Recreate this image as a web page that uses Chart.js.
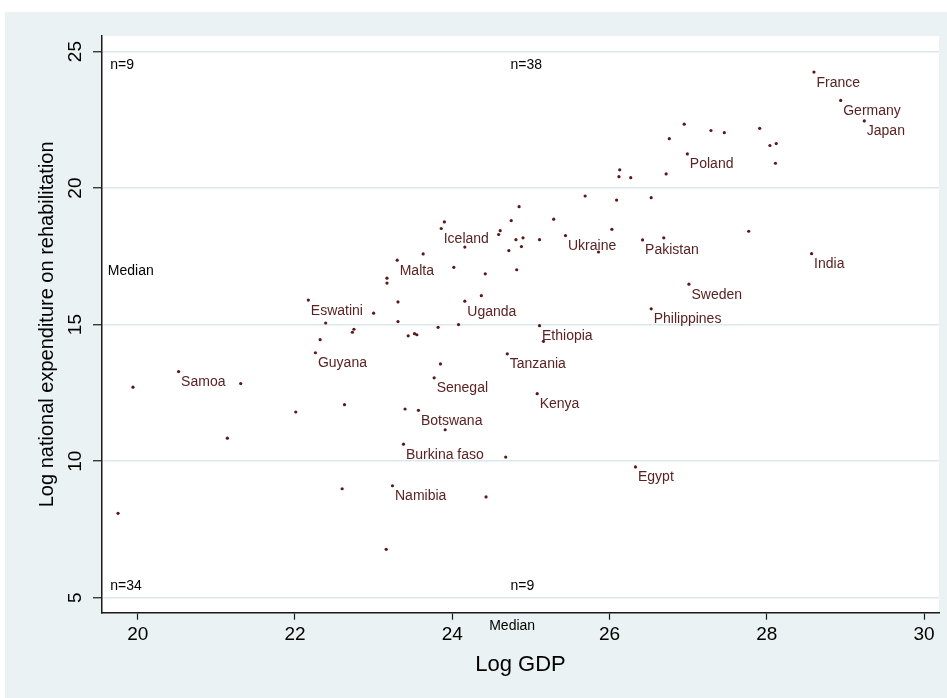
<!DOCTYPE html>
<html>
<head>
<meta charset="utf-8">
<script src="https://cdn.jsdelivr.net/npm/chart.js@4.4.1/dist/chart.umd.min.js"></script>
<style>
   html, body { margin: 0; padding: 0; background: #fff; }
   canvas { display: block; }
</style>
</head>
<body>
<canvas id="chartRehab" width="947" height="698"></canvas>
<script>
// labelled countries first, the rest of the points follow without a name
const labelNames = ['France', 'Germany', 'Japan', 'Poland', 'Iceland', 'Ukraine', 'Pakistan', 'India',
   'Malta', 'Sweden', 'Eswatini', 'Uganda', 'Philippines', 'Ethiopia', 'Guyana', 'Tanzania', 'Samoa',
   'Senegal', 'Kenya', 'Botswana', 'Burkina faso', 'Egypt', 'Namibia'];

const logGdp = [28.60, 28.94, 29.24, 26.99, 23.86, 25.44, 26.42, 28.57, 23.30, 27.01, 22.17, 24.16,
   26.53, 25.11, 22.26, 24.70, 20.52, 23.77, 25.08, 23.57, 23.38, 26.33, 23.24,
   26.76, 26.13, 26.12, 26.27, 26.72, 25.69, 26.09, 26.53, 24.85, 25.29, 24.75, 23.90, 24.61, 24.59,
   26.03, 24.81, 24.90, 25.11, 25.86, 26.69, 24.16, 23.63, 24.72, 24.88, 24.02, 24.42, 24.82, 23.17,
   23.17, 23.31, 24.37, 26.95, 27.29, 27.46, 27.91, 28.04, 28.12, 28.11, 27.77, 23.00, 22.39, 22.73,
   22.75, 22.32, 19.94, 21.31, 22.63, 22.01, 21.14, 22.60, 19.75, 23.16, 23.31, 24.08, 23.82, 23.44,
   23.52, 23.55, 25.16, 23.85, 23.40, 23.91, 24.68, 24.43];

const logRehab = [24.25, 23.21, 22.46, 21.25, 18.52, 18.26, 18.10, 17.60, 17.36, 16.48, 15.90, 15.86,
   15.58, 14.96, 13.97, 13.93, 13.28, 13.05, 12.47, 11.86, 10.62, 9.79, 9.10,
   21.81, 20.67, 20.42, 20.38, 20.52, 19.71, 19.56, 19.65, 19.32, 18.86, 18.81, 18.76, 18.44, 18.30,
   18.49, 18.11, 18.18, 18.11, 17.66, 18.18, 17.84, 17.59, 17.71, 17.86, 17.10, 16.86, 17.01, 16.70,
   16.52, 15.83, 16.06, 22.34, 22.11, 22.03, 22.19, 21.56, 21.63, 20.91, 18.42, 15.42, 15.06, 14.72,
   14.83, 14.45, 12.71, 12.84, 12.07, 11.80, 10.84, 8.99, 8.09, 6.77, 15.11, 15.00, 14.90, 14.59,
   14.67, 14.63, 14.39, 13.56, 11.91, 11.15, 10.15, 8.69];

const xTicks = [20, 22, 24, 26, 28, 30];
const yTicks = [5, 10, 15, 20, 25];

const noteTexts = ['n=9', 'n=38', 'n=34', 'n=9', 'Median', 'Median'];
const noteX = [19.65, 24.74, 19.65, 24.74, 19.62, 24.47];
const noteY = [24.51, 24.51, 5.43, 5.43, 16.96, 3.96];

const FONT = "'Liberation Sans', Arial, sans-serif";
const MARKER = '#5c1717';
const LABEL_COLOR = '#5a2222';

const points = logGdp.map((x, i) => ({ x: x, y: logRehab[i] }));

const stataLook = {
   id: 'stataLook',
   beforeDraw(chart) {
      const { ctx, chartArea } = chart;
      ctx.save();
      ctx.fillStyle = '#ffffff';
      ctx.fillRect(0, 0, chart.width, chart.height);
      ctx.fillStyle = '#eaf2f3';
      ctx.fillRect(5, 12, chart.width - 5, chart.height - 12);
      ctx.fillStyle = '#ffffff';
      ctx.fillRect(chartArea.left, chartArea.top, chartArea.right - chartArea.left, chartArea.bottom - chartArea.top);
      ctx.restore();
   },
   afterDraw(chart) {
      const { ctx } = chart;
      const xs = chart.scales.x;
      const ys = chart.scales.y;
      ctx.save();

      // y tick labels, turned like Stata does
      ctx.fillStyle = '#000';
      ctx.font = '19px ' + FONT;
      ctx.textAlign = 'center';
      ctx.textBaseline = 'middle';
      yTicks.forEach(v => {
         ctx.save();
         ctx.translate(76, ys.getPixelForValue(v));
         ctx.rotate(-Math.PI / 2);
         ctx.fillText(String(v), 0, 0);
         ctx.restore();
      });

      // country names next to their markers
      const meta = chart.getDatasetMeta(0);
      ctx.font = '14px ' + FONT;
      ctx.fillStyle = LABEL_COLOR;
      ctx.textAlign = 'left';
      ctx.textBaseline = 'alphabetic';
      labelNames.forEach((name, i) => {
         const p = meta.data[i];
         ctx.fillText(name, p.x + 2.5, p.y + 14.5);
      });

      // quadrant counts and median marks
      ctx.fillStyle = '#000';
      ctx.textBaseline = 'middle';
      noteTexts.forEach((t, i) => {
         ctx.fillText(t, xs.getPixelForValue(noteX[i]), ys.getPixelForValue(noteY[i]));
      });
      ctx.restore();
   }
};

const chartRehab = new Chart(document.getElementById('chartRehab').getContext('2d'), {
   type: 'scatter',
   data: {
      datasets: [{
         data: points,
         pointRadius: 1.6,
         pointHoverRadius: 1.6,
         backgroundColor: MARKER,
         borderWidth: 0,
      }]
   },
   options: {
      responsive: false,
      animation: false,
      devicePixelRatio: 1,
      layout: {
         padding: { left: 5, top: 36, right: 8, bottom: 0 }
      },
      scales: {
         x: {
            type: 'linear',
            min: 19.546,
            max: 30.19,
            afterBuildTicks: scale => { scale.ticks = xTicks.map(v => ({ value: v })); },
            afterFit: scale => { scale.height = 85.3; },
            border: { color: '#1a1a1a', width: 1.5 },
            grid: {
               drawOnChartArea: false,
               tickLength: 7,
               tickColor: '#1a1a1a',
               tickWidth: 1.2,
            },
            ticks: {
               color: '#000',
               padding: 4,
               maxRotation: 0,
               font: { family: FONT, size: 19 },
            },
            title: {
               display: true,
               text: 'Log GDP',
               color: '#000',
               padding: { top: 0, bottom: 20 },
               font: { family: FONT, size: 22 },
            }
         },
         y: {
            type: 'linear',
            min: 4.45,
            max: 25.57,
            afterBuildTicks: scale => { scale.ticks = yTicks.map(v => ({ value: v })); },
            afterFit: scale => { scale.width = 97; },
            border: { color: '#1a1a1a', width: 1.5 },
            grid: {
               color: '#dce8ec',
               lineWidth: 1.5,
               tickLength: 9,
               tickColor: '#1a1a1a',
               tickWidth: 1.2,
            },
            ticks: { display: false },
            title: {
               display: true,
               text: 'Log national expenditure on rehabilitation',
               color: '#000',
               padding: { top: 30, bottom: 0 },
               font: { family: FONT, size: 20 },
            }
         }
      },
      plugins: {
         legend: { display: false },
         tooltip: { enabled: false },
      }
   },
   plugins: [stataLook]
});
</script>
</body>
</html>
